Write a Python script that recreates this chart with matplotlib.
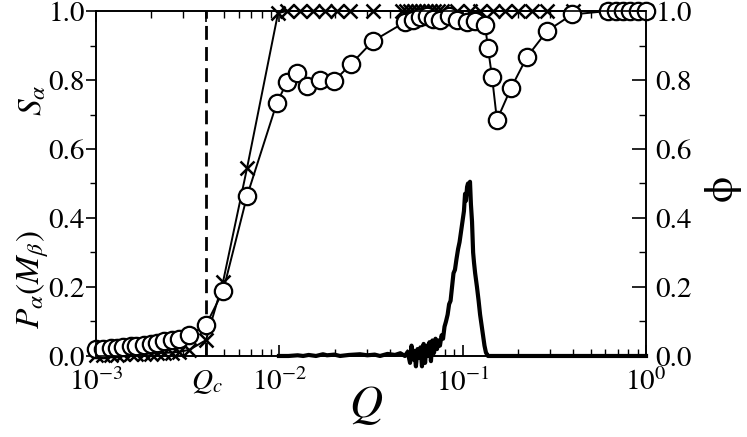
import numpy as np
import matplotlib
matplotlib.use("Agg")
import matplotlib.pyplot as plt
from matplotlib.ticker import FixedLocator, NullFormatter, LogLocator

plt.rcParams['mathtext.fontset'] = 'stix'
plt.rcParams['font.family'] = ['STIXGeneral', 'DejaVu Serif']

# ---------------- data (log10 Q and values) ----------------
Qc = 0.004

circ_logQ = [-3.0, -2.96, -2.92, -2.885, -2.85, -2.81, -2.78, -2.74, -2.70, -2.665,
             -2.63, -2.585, -2.545, -2.49, -2.40,
             -2.307, -2.176, -2.014, -1.958, -1.904, -1.849, -1.778, -1.702, -1.609,
             -1.489, -1.314, -1.271, -1.233, -1.194, -1.162, -1.124, -1.074, -1.031,
             -0.976, -0.933, -0.878, -0.862, -0.840, -0.813, -0.736, -0.649, -0.540,
             -0.403, -0.207, -0.165, -0.125, -0.085, -0.043, 0.0]
circ_val = [0.020, 0.021, 0.022, 0.024, 0.026, 0.028, 0.030, 0.033, 0.036, 0.039,
            0.042, 0.046, 0.050, 0.060, 0.090,
            0.188, 0.464, 0.733, 0.794, 0.820, 0.783, 0.800, 0.797, 0.846,
            0.913, 0.968, 0.975, 0.982, 0.985, 0.978, 0.975, 0.985, 0.975,
            0.968, 0.972, 0.960, 0.893, 0.810, 0.684, 0.777, 0.867, 0.942,
            0.990, 1.0, 1.0, 1.0, 1.0, 1.0, 1.0]

cross_logQ = [-3.0, -2.96, -2.92, -2.885, -2.85, -2.81, -2.78, -2.74, -2.70, -2.665,
              -2.63, -2.585, -2.545, -2.49, -2.40,
              -2.307, -2.176, -2.007, -1.958, -1.887, -1.816, -1.751, -1.685, -1.614,
              -1.489, -1.331, -1.309, -1.287, -1.265, -1.244, -1.222, -1.200, -1.178,
              -1.156, -1.135, -1.113, -1.031, -0.960, -0.905, -0.834, -0.769, -0.698,
              -0.622, -0.540, -0.398, -0.207, -0.165, -0.125, -0.085, -0.043, 0.0]
cross_val = [0.003, 0.003, 0.004, 0.004, 0.005, 0.005, 0.006, 0.006, 0.007, 0.008,
             0.009, 0.010, 0.012, 0.018, 0.046,
             0.215, 0.545, 0.994, 1.0, 1.0, 1.0, 1.0, 1.0, 1.0,
             1.0, 1.0, 1.0, 1.0, 1.0, 1.0, 1.0, 1.0, 1.0,
             1.0, 1.0, 1.0, 1.0, 1.0, 1.0, 1.0, 1.0, 1.0,
             1.0, 1.0, 1.0, 1.0, 1.0, 1.0, 1.0, 1.0, 1.0]

phi_logQ = [-2.002, -1.95, -1.90, -1.87, -1.84, -1.80, -1.762, -1.74, -1.70, -1.669,
            -1.62, -1.56, -1.52, -1.48, -1.451, -1.41, -1.369, -1.34, -1.315,
            -1.300, -1.287, -1.279, -1.271, -1.263, -1.255, -1.246, -1.238, -1.230,
            -1.222, -1.213, -1.205, -1.197, -1.189, -1.181, -1.173, -1.165, -1.156,
            -1.148, -1.140, -1.132, -1.124, -1.115, -1.107, -1.099, -1.091, -1.082,
            -1.074, -1.066, -1.058, -1.050, -1.042, -1.034, -1.025, -1.017, -1.009,
            -1.001, -0.993, -0.987, -0.982, -0.976, -0.971, -0.965, -0.960, -0.955,
            -0.949, -0.943, -0.938, -0.932, -0.922, -0.913, -0.905, -0.897, -0.889,
            -0.881, -0.873, -0.862, -0.851, -0.80, -0.687, -0.60, -0.469, -0.35,
            -0.251, -0.12, 0.0]
phi_val = [0.0, 0.0, 0.002, 0.0, 0.003, 0.0, 0.005, 0.002, 0.004, 0.0,
           0.003, 0.005, 0.002, 0.004, 0.0, 0.006, 0.003, 0.008, 0.0,
           0.012, -0.02, 0.03, -0.01, 0.015, -0.03, 0.02, -0.005, 0.025,
           -0.03, 0.035, -0.02, 0.03, 0.0, 0.04, -0.015, 0.045, 0.01,
           0.05, 0.02, 0.045, 0.03, 0.06, 0.05, 0.085, 0.10, 0.12,
           0.15, 0.16, 0.20, 0.24, 0.25, 0.28, 0.31, 0.33, 0.36,
           0.39, 0.42, 0.47, 0.45, 0.49, 0.50, 0.49, 0.505, 0.44,
           0.39, 0.30, 0.27, 0.24, 0.20, 0.16, 0.12, 0.09, 0.06,
           0.03, 0.01, 0.0, 0.0, 0.0, 0.0, 0.0, 0.0, 0.0,
           0.0, 0.0, 0.0]

xtick_vals = [1e-3, Qc, 1e-2, 1e-1, 1e0]
xtick_labels = [r'$10^{-3}$', r'$Q_c$', r'$10^{-2}$', r'$10^{-1}$', r'$10^{0}$']
ytick_vals = [0.0, 0.2, 0.4, 0.6, 0.8, 1.0]
ytick_labels = ['0.0', '0.2', '0.4', '0.6', '0.8', '1.0']

# ---------------- figure ----------------
fig = plt.figure(figsize=(7.47, 4.37), dpi=100)
ax = fig.add_axes([0.1285, 0.1854, 0.7363, 0.7894])
ax2 = ax.twinx()

cq = 10 ** np.array(circ_logQ)
xq = 10 ** np.array(cross_logQ)
pq = 10 ** np.array(phi_logQ)

ax.axvline(Qc, color='black', lw=2.0, dashes=(5, 2.6), zorder=1)

ax.plot(xq, cross_val, color='black', lw=1.4, marker='x', ms=10, mew=1.8,
        zorder=3, clip_on=False)
ax.plot(cq, circ_val, color='black', lw=1.4, marker='o', ms=12.5, mew=1.6,
        mfc='white', mec='black', zorder=4, clip_on=False)
ax2.plot(pq, phi_val, color='black', lw=3.0, zorder=2, clip_on=False)

for a in (ax, ax2):
    a.set_xscale('log')
    a.set_xlim(1e-3, 1.0)
    a.set_ylim(0, 1)
    for s in a.spines.values():
        s.set_linewidth(1.2)

ax.xaxis.set_major_locator(FixedLocator(xtick_vals))
ax.set_xticklabels(xtick_labels)
ax.xaxis.set_minor_locator(LogLocator(base=10, subs=np.arange(2, 10), numticks=20))
ax.xaxis.set_minor_formatter(NullFormatter())
ax.set_yticks(ytick_vals)
ax.set_yticklabels(ytick_labels)
ax.set_yticks([0.1, 0.3, 0.5, 0.7, 0.9], minor=True)

ax.tick_params(axis='x', which='both', direction='in', top=True, bottom=True,
               labelsize=21, pad=9)
ax.tick_params(axis='x', which='major', length=8, width=1.2)
ax.tick_params(axis='x', which='minor', length=5, width=1.0)
ax.tick_params(axis='y', which='both', direction='out', left=True, right=False,
               labelsize=21, pad=1)
ax.tick_params(axis='y', which='major', length=7, width=1.2)
ax.tick_params(axis='y', which='minor', length=4, width=1.0)

ax2.set_yticks(ytick_vals)
ax2.set_yticklabels(ytick_labels)
ax2.set_yticks([0.1, 0.3, 0.5, 0.7, 0.9], minor=True)
ax2.tick_params(axis='y', which='both', direction='in', labelsize=21, pad=7)
ax2.tick_params(axis='y', which='major', length=10, width=1.2)
ax2.tick_params(axis='y', which='minor', length=5, width=1.0)
ax2.tick_params(axis='x', which='both', top=False, bottom=False)

fig.text(0.490, 0.072, r'$Q$', fontsize=33, ha='center', va='center')
fig.text(0.044, 0.77, r'$S_{\alpha}$', fontsize=24, rotation=90, ha='center', va='center')
fig.text(0.044, 0.36, r'$P_{\alpha}(M_{\beta})$', fontsize=24, rotation=90,
         ha='center', va='center')
fig.text(0.966, 0.57, 'ϕ', fontsize=30, rotation=90, ha='center', va='center',
         family=['STIXGeneral', 'DejaVu Serif'])

fig.savefig('out.png', dpi=100)
